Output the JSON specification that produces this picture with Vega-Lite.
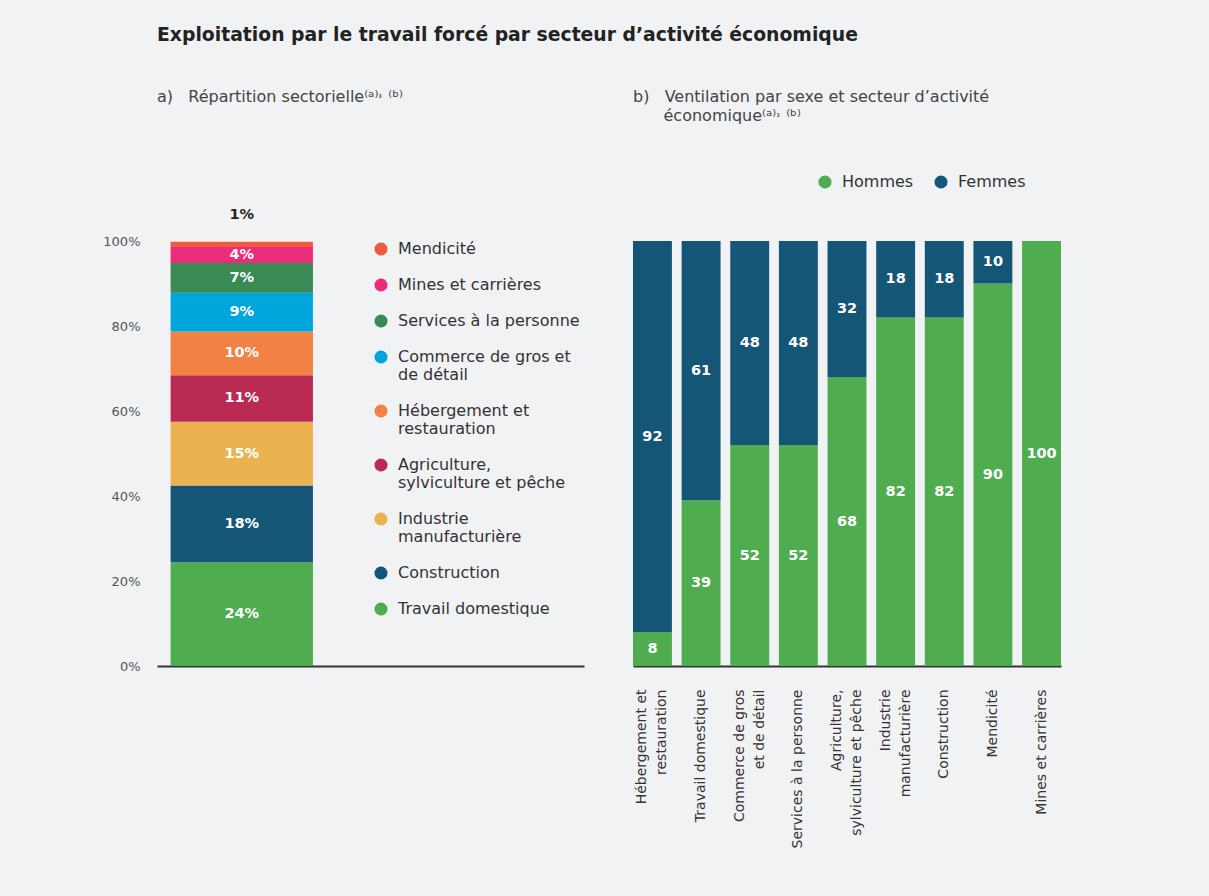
{
  "$schema": "https://vega.github.io/schema/vega-lite/v6.json",
  "background": "#f1f2f4",
  "padding": {"left": 102, "top": 26, "right": 160, "bottom": 60},
  "title": {
    "text": "Exploitation par le travail forcé par secteur d’activité économique",
    "anchor": "start",
    "frame": "group",
    "fontSize": 18.8,
    "fontWeight": "bold",
    "color": "#222222",
    "offset": 44
  },
  "datasets": {
    "repartition": [
      {"groupe": "Total", "secteur": "Travail domestique", "part": 0.244},
      {"groupe": "Total", "secteur": "Construction", "part": 0.181},
      {"groupe": "Total", "secteur": "Industrie manufacturière", "part": 0.150},
      {"groupe": "Total", "secteur": "Agriculture, sylviculture et pêche", "part": 0.109},
      {"groupe": "Total", "secteur": "Hébergement et restauration", "part": 0.103},
      {"groupe": "Total", "secteur": "Commerce de gros et de détail", "part": 0.091},
      {"groupe": "Total", "secteur": "Services à la personne", "part": 0.070},
      {"groupe": "Total", "secteur": "Mines et carrières", "part": 0.038},
      {"groupe": "Total", "secteur": "Mendicité", "part": 0.012}
    ],
    "sexe": [
      {"secteur": "Hébergement et restauration", "sexe": "Hommes", "val": 8},
      {"secteur": "Hébergement et restauration", "sexe": "Femmes", "val": 92},
      {"secteur": "Travail domestique", "sexe": "Hommes", "val": 39},
      {"secteur": "Travail domestique", "sexe": "Femmes", "val": 61},
      {"secteur": "Commerce de gros et de détail", "sexe": "Hommes", "val": 52},
      {"secteur": "Commerce de gros et de détail", "sexe": "Femmes", "val": 48},
      {"secteur": "Services à la personne", "sexe": "Hommes", "val": 52},
      {"secteur": "Services à la personne", "sexe": "Femmes", "val": 48},
      {"secteur": "Agriculture, sylviculture et pêche", "sexe": "Hommes", "val": 68},
      {"secteur": "Agriculture, sylviculture et pêche", "sexe": "Femmes", "val": 32},
      {"secteur": "Industrie manufacturière", "sexe": "Hommes", "val": 82},
      {"secteur": "Industrie manufacturière", "sexe": "Femmes", "val": 18},
      {"secteur": "Construction", "sexe": "Hommes", "val": 82},
      {"secteur": "Construction", "sexe": "Femmes", "val": 18},
      {"secteur": "Mendicité", "sexe": "Hommes", "val": 90},
      {"secteur": "Mendicité", "sexe": "Femmes", "val": 10},
      {"secteur": "Mines et carrières", "sexe": "Hommes", "val": 100},
      {"secteur": "Mines et carrières", "sexe": "Femmes", "val": 0}
    ]
  },
  "spacing": 49,
  "bounds": "flush",
  "resolve": {"scale": {"color": "independent", "x": "independent", "y": "independent"}, "legend": {"color": "independent"}},
  "hconcat": [
    {
      "width": 427,
      "height": 425,
      "data": {"name": "repartition"},
      "title": {
        "text": "a)\u00a0\u00a0\u00a0Répartition sectorielle⁽ᵃ⁾˒ ⁽ᵇ⁾",
        "anchor": "start",
        "frame": "group",
        "fontSize": 16,
        "fontWeight": "normal",
        "color": "#444444",
        "offset": 102
      },
      "transform": [
        {"stack": "part", "groupby": ["groupe"], "sort": [{"field": "part", "order": "descending"}], "as": ["y0", "y1"]},
        {"calculate": "(datum.y0 + datum.y1) / 2", "as": "ymid"}
      ],
      "layer": [
        {
          "mark": {"type": "bar"},
          "encoding": {
            "x": {
              "field": "groupe", "type": "nominal",
              "scale": {"paddingInner": 0, "paddingOuter": 1.0933, "align": 0.0478},
              "axis": {"labels": false, "ticks": false, "title": null, "domain": true, "domainColor": "#333333", "domainWidth": 2}
            },
            "y": {
              "field": "y0", "type": "quantitative",
              "scale": {"domain": [0, 1]},
              "axis": {"values": [0, 0.2, 0.4, 0.6, 0.8, 1], "format": ".0%", "domain": false, "ticks": false, "grid": false, "labelPadding": 17, "labelFontSize": 13, "labelColor": "#555555", "title": null}
            },
            "y2": {"field": "y1"},
            "color": {
              "field": "secteur", "type": "nominal",
              "scale": {
                "domain": ["Mendicité", "Mines et carrières", "Services à la personne", "Commerce de gros et de détail", "Hébergement et restauration", "Agriculture, sylviculture et pêche", "Industrie manufacturière", "Construction", "Travail domestique"],
                "range": ["#ef5a3c", "#ea2c7a", "#3a8a56", "#00a5dc", "#f08244", "#b92b52", "#ebb34f", "#155677", "#4fac4f"]
              },
              "legend": {
                "orient": "none", "legendX": 216, "legendY": 0, "direction": "vertical",
                "title": null, "symbolType": "circle", "symbolSize": 170, "symbolStrokeWidth": 0,
                "labelFontSize": 16, "labelColor": "#333333", "labelLimit": 300, "labelOffset": 9,
                "rowPadding": 20,
                "labelExpr": "datum.label == 'Commerce de gros et de détail' ? ['Commerce de gros et', 'de détail'] : datum.label == 'Hébergement et restauration' ? ['Hébergement et', 'restauration'] : datum.label == 'Agriculture, sylviculture et pêche' ? ['Agriculture,', 'sylviculture et pêche'] : datum.label == 'Industrie manufacturière' ? ['Industrie', 'manufacturière'] : datum.label"
              }
            }
          }
        },
        {
          "transform": [{"filter": "datum.part >= 0.02"}],
          "mark": {"type": "text", "color": "white", "fontWeight": "bold", "fontSize": 14.5},
          "encoding": {
            "x": {"field": "groupe", "type": "nominal"},
            "y": {"field": "ymid", "type": "quantitative"},
            "text": {"field": "part", "type": "quantitative", "format": ".0%"}
          }
        },
        {
          "transform": [{"filter": "datum.part < 0.02"}],
          "mark": {"type": "text", "color": "#222222", "fontWeight": "bold", "fontSize": 14.5, "dy": -27},
          "encoding": {
            "x": {"field": "groupe", "type": "nominal"},
            "y": {"field": "y1", "type": "quantitative"},
            "text": {"field": "part", "type": "quantitative", "format": ".0%"}
          }
        }
      ]
    },
    {
      "width": 428,
      "height": 425,
      "data": {"name": "sexe"},
      "title": {
        "text": ["b)\u00a0\u00a0\u00a0Ventilation par sexe et secteur d’activité", "\u200b\u00a0\u00a0\u00a0\u00a0\u00a0\u00a0économique⁽ᵃ⁾˒ ⁽ᵇ⁾"],
        "anchor": "start",
        "frame": "group",
        "fontSize": 16,
        "fontWeight": "normal",
        "color": "#444444",
        "lineHeight": 19,
        "offset": 50
      },
      "transform": [
        {"stack": "val", "groupby": ["secteur"], "sort": [{"field": "sexe", "order": "descending"}], "as": ["y0", "y1"]},
        {"calculate": "(datum.y0 + datum.y1) / 2", "as": "ymid"}
      ],
      "layer": [
        {
          "mark": {"type": "bar"},
          "encoding": {
            "x": {
              "field": "secteur", "type": "nominal",
              "sort": ["Hébergement et restauration", "Travail domestique", "Commerce de gros et de détail", "Services à la personne", "Agriculture, sylviculture et pêche", "Industrie manufacturière", "Construction", "Mendicité", "Mines et carrières"],
              "scale": {"paddingInner": 0.2, "paddingOuter": 0},
              "axis": {
                "labelAngle": -90, "ticks": false, "title": null, "domain": true, "domainColor": "#333333", "domainWidth": 2,
                "labelPadding": 23, "labelFontSize": 14, "labelColor": "#333333", "labelLimit": 300, "labelLineHeight": 20,
                "labelOffset": {"condition": {"test": "indexof(['Hébergement et restauration', 'Commerce de gros et de détail', 'Agriculture, sylviculture et pêche', 'Industrie manufacturière'], datum.value) >= 0", "value": -10}, "value": 0},
                "labelExpr": "datum.label == 'Hébergement et restauration' ? ['Hébergement et', 'restauration'] : datum.label == 'Commerce de gros et de détail' ? ['Commerce de gros', 'et de détail'] : datum.label == 'Agriculture, sylviculture et pêche' ? ['Agriculture,', 'sylviculture et pêche'] : datum.label == 'Industrie manufacturière' ? ['Industrie', 'manufacturière'] : datum.label"
              }
            },
            "y": {"field": "y0", "type": "quantitative", "scale": {"domain": [0, 100]}, "axis": null},
            "y2": {"field": "y1"},
            "color": {
              "field": "sexe", "type": "nominal",
              "scale": {"domain": ["Hommes", "Femmes"], "range": ["#4fac4f", "#155677"]},
              "legend": {
                "orient": "none", "legendX": 184, "legendY": -67, "direction": "horizontal",
                "title": null, "symbolType": "circle", "symbolSize": 170, "symbolStrokeWidth": 0,
                "labelFontSize": 16, "labelColor": "#333333", "labelOffset": 9, "columnPadding": 19
              }
            }
          }
        },
        {
          "transform": [{"filter": "datum.val > 0"}],
          "mark": {"type": "text", "color": "white", "fontWeight": "bold", "fontSize": 14.5},
          "encoding": {
            "x": {"field": "secteur", "type": "nominal", "sort": ["Hébergement et restauration", "Travail domestique", "Commerce de gros et de détail", "Services à la personne", "Agriculture, sylviculture et pêche", "Industrie manufacturière", "Construction", "Mendicité", "Mines et carrières"]},
            "y": {"field": "ymid", "type": "quantitative"},
            "text": {"field": "val", "type": "quantitative"}
          }
        }
      ]
    }
  ],
  "config": {
    "font": "DejaVu Sans",
    "view": {"stroke": null},
    "axis": {"grid": false}
  }
}
